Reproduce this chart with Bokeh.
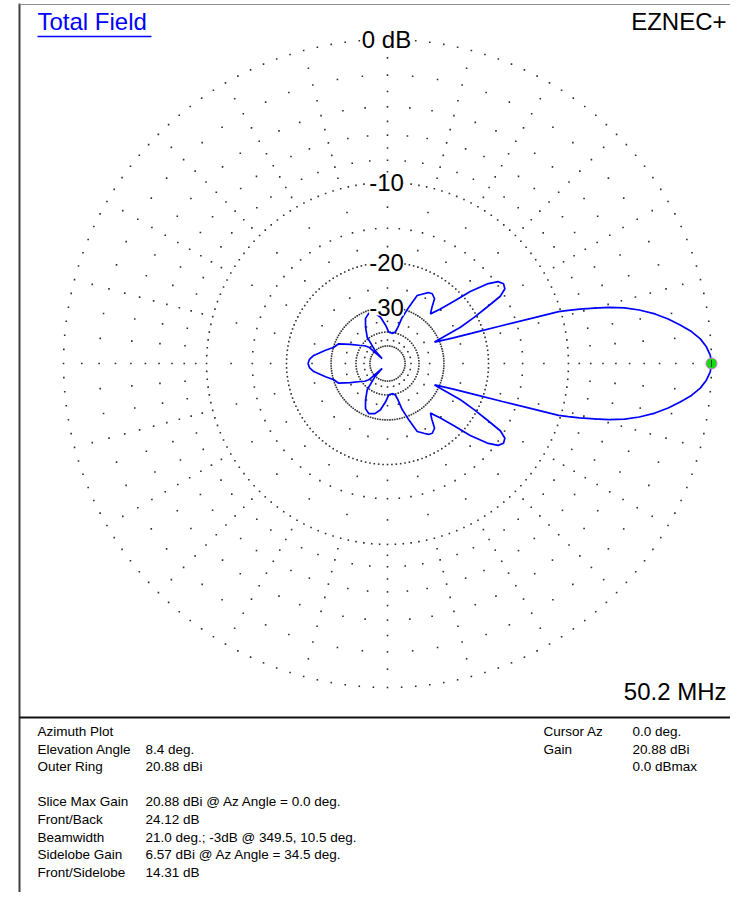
import numpy as np
from bokeh.plotting import figure
from bokeh.models import Range1d, Label
from bokeh.embed import file_html
from bokeh.resources import INLINE

# ---------------- data ----------------
# azimuth pattern (upper half, symmetric), relative dB below slice max (20.88 dBi)
az_deg = [0, 1.5, 3, 4.5, 6, 7.5, 9, 10.5, 12, 13.2, 14.2, 15.0, 15.8, 16.4, 16.85,
          17.4, 18.3, 19.7, 21.4, 24.5, 26.4, 28.0, 29.5, 30.8, 32.5, 34.5, 36.5,
          38.6, 41.0, 43.0, 46.0, 49.1, 51.5, 54.0, 57.3, 60.0, 62.5, 66.4, 69.3,
          70.5, 72.5, 74.0, 76.0, 80.0, 87.6, 93.0, 98.6, 104.0, 110.4, 116.0,
          121.2, 127.7, 134.0, 137.0, 138.9, 142.0, 146.3, 152.8, 158.0, 163.1,
          168.0, 173.8, 177.0, 180.0]
rel_db = [0, -0.06, -0.25, -0.55, -1.0, -1.6, -2.25, -3.0, -3.95, -4.9, -6.0, -7.1,
          -8.3, -9.3, -10.2, -13.0, -16.9, -22.0, -26.4, -31.5, -23.7, -20.5, -17.9,
          -15.5, -14.5, -14.31, -14.7, -16.0, -18.6, -21.6, -25.0, -27.4, -26.0,
          -24.0, -23.4, -23.6, -24.3, -25.3, -28.9, -30.5, -33.0, -37.0, -39.5,
          -40.5, -40.1, -36.5, -33.2, -31.5, -30.9, -32.0, -34.9, -39.1, -50.0,
          -65.0, -44.1, -41.5, -39.5, -35.2, -31.2, -30.1, -28.0, -25.3, -24.4, -24.12]
cursor_az = [0.0]
cursor_rel = [0.0]

# grid (ARRL log scale)
ring_db = [0, -10, -20, -30, -40, -50]
ring_step = [2.5, 2.5, 2.5, 2.5, 5.0, 7.5]
fine_db = [-2, -4, -6, -8, -15]                       # dotted every 5 deg
radial_db = [-1, -3, -5, -7, -9, -12.5, -17.5, -25, -35, -45]   # dotted every 15 deg
ring_labels = ["0 dB", "-10", "-20", "-30"]
ring_label_db = [0, -10, -20, -30]

info_labels = ["Azimuth Plot", "Elevation Angle", "Outer Ring", "", "Slice Max Gain",
               "Front/Back", "Beamwidth", "Sidelobe Gain", "Front/Sidelobe"]
info_values = ["", "8.4 deg.", "20.88 dBi", "", "20.88 dBi @ Az Angle = 0.0 deg.",
               "24.12 dB", "21.0 deg.; -3dB @ 349.5, 10.5 deg.",
               "6.57 dBi @ Az Angle = 34.5 deg.", "14.31 dB"]
cursor_labels = ["Cursor Az", "Gain", ""]
cursor_values = ["0.0 deg.", "20.88 dBi", "0.0 dBmax"]


def arrl_r(db):
    return 0.89 ** (-np.asarray(db, dtype=float) / 2.0)


# ---------------- layout helpers (reference pixel -> data) ----------------
CX, CY, R = 387.0, 363.0, 324.0


def X(px):
    return (px - CX) / R


def Y(py):
    return (CY - py) / R


W, H = 730, 892
p = figure(width=W, height=H, x_range=Range1d(X(0), X(W)),
           y_range=Range1d(Y(H), Y(0)), output_backend="svg",
           toolbar_location=None, x_axis_type=None, y_axis_type=None,
           min_border=0, outline_line_color=None,
           background_fill_color="white", border_fill_color="white")

FONT = "Liberation Sans"

# ---------------- grid dots ----------------
gx, gy = [], []
for db, st in zip(ring_db, ring_step):
    a = np.deg2rad(np.arange(0, 360, st))
    r = arrl_r(db)
    gx += list(r * np.cos(a)); gy += list(r * np.sin(a))
for db in fine_db:
    a = np.deg2rad(np.arange(0, 360, 5.0))
    r = arrl_r(db)
    gx += list(r * np.cos(a)); gy += list(r * np.sin(a))
for db in radial_db:
    a = np.deg2rad(np.arange(0, 360, 15.0))
    r = arrl_r(db)
    gx += list(r * np.cos(a)); gy += list(r * np.sin(a))
p.scatter(gx, gy, marker="square", size=1.6, fill_color="#303030", line_color=None)

# ---------------- pattern ----------------
az = np.array(az_deg)
rd = np.array(rel_db)
full_az = np.concatenate([az, 360 - az[::-1][1:]])
full_db = np.concatenate([rd, rd[::-1][1:]])
rr = arrl_r(full_db)
th = np.deg2rad(full_az)
p.line(rr * np.cos(th), rr * np.sin(th), line_color="#0000ff", line_width=1.7)

# cursor marker
cr = arrl_r(cursor_rel)
ca = np.deg2rad(cursor_az)
p.scatter(cr * np.cos(ca), cr * np.sin(ca), size=11, fill_color="#11dd11",
          line_color="#e070e0", line_width=1.0)
p.scatter(cr * np.cos(ca), cr * np.sin(ca), marker="dash", angle=np.pi / 2, size=7,
          line_color="#303030", line_width=0.9)

# ring labels
for t, db in zip(ring_labels, ring_label_db):
    p.add_layout(Label(x=X(386), y=float(arrl_r(db)), text=t, text_align="center",
                       text_baseline="middle", text_font=FONT, text_font_size="24px",
                       text_color="black", background_fill_color="white"))

# ---------------- frame lines ----------------
p.line([X(19), X(19)], [Y(3), Y(H + 2)], line_color="#404040", line_width=2)
p.line([X(19), X(W + 2)], [Y(4), Y(4)], line_color="#909090", line_width=1)
p.line([X(19), X(W + 2)], [Y(717), Y(717)], line_color="#101010", line_width=2)

# ---------------- titles ----------------
p.add_layout(Label(x=X(37), y=Y(21), text="Total Field", text_align="left",
                   text_baseline="middle", text_font=FONT, text_font_size="24px",
                   text_color="#0000ff"))
p.line([X(37), X(151)], [Y(36), Y(36)], line_color="#0000ff", line_width=1.6)
p.add_layout(Label(x=X(726), y=Y(21), text="EZNEC+", text_align="right",
                   text_baseline="middle", text_font=FONT, text_font_size="24px",
                   text_color="black"))
p.add_layout(Label(x=X(726), y=Y(691), text="50.2 MHz", text_align="right",
                   text_baseline="middle", text_font=FONT, text_font_size="24px",
                   text_color="black"))

# ---------------- info panel ----------------
row0, dy = 731.0, 17.6
for i, (lab, val) in enumerate(zip(info_labels, info_values)):
    yy = Y(row0 + i * dy)
    if lab:
        p.add_layout(Label(x=X(37), y=yy, text=lab, text_align="left",
                           text_baseline="middle", text_font=FONT,
                           text_font_size="13.5px", text_color="black"))
    if val:
        p.add_layout(Label(x=X(145), y=yy, text=val, text_align="left",
                           text_baseline="middle", text_font=FONT,
                           text_font_size="13.5px", text_color="black"))
for i, (lab, val) in enumerate(zip(cursor_labels, cursor_values)):
    yy = Y(row0 + i * dy)
    if lab:
        p.add_layout(Label(x=X(543), y=yy, text=lab, text_align="left",
                           text_baseline="middle", text_font=FONT,
                           text_font_size="13.5px", text_color="black"))
    if val:
        p.add_layout(Label(x=X(632), y=yy, text=val, text_align="left",
                           text_baseline="middle", text_font=FONT,
                           text_font_size="13.5px", text_color="black"))

open("out.html", "w").write(file_html(p, INLINE))
